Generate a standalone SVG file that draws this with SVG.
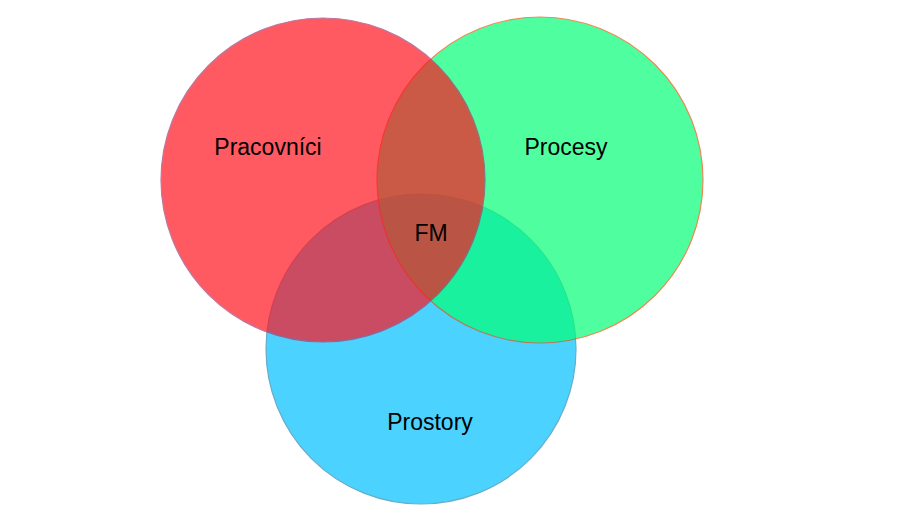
<svg xmlns="http://www.w3.org/2000/svg" width="905" height="511" viewBox="0 0 905 511">
<style>
.c{opacity:0.7;stroke-width:1.2}
.t{font-family:"Liberation Sans",Arial,sans-serif;font-size:23px;fill:#000;text-anchor:middle}
</style>
<rect width="905" height="511" fill="#fff"/>
<g id="prostory"><circle class="c" cx="421" cy="349" r="155" fill="#00bfff" stroke="#2a8ab0" stroke-width="1"/></g>
<g id="procesy"><circle class="c" cx="540" cy="180" r="163" fill="#05ff77" stroke="#e05a10"/></g>
<g id="pracovnici"><circle class="c" cx="323" cy="180" r="162" fill="#ff1420" stroke="#a04078" stroke-width="0.6"/></g>
<g id="connectors"></g>
<g id="labels">
<text class="t" x="268" y="155">Pracovníci</text>
<text class="t" x="566" y="155">Procesy</text>
<text class="t" x="431" y="241">FM</text>
<text class="t" x="430" y="430">Prostory</text>
</g>
</svg>
